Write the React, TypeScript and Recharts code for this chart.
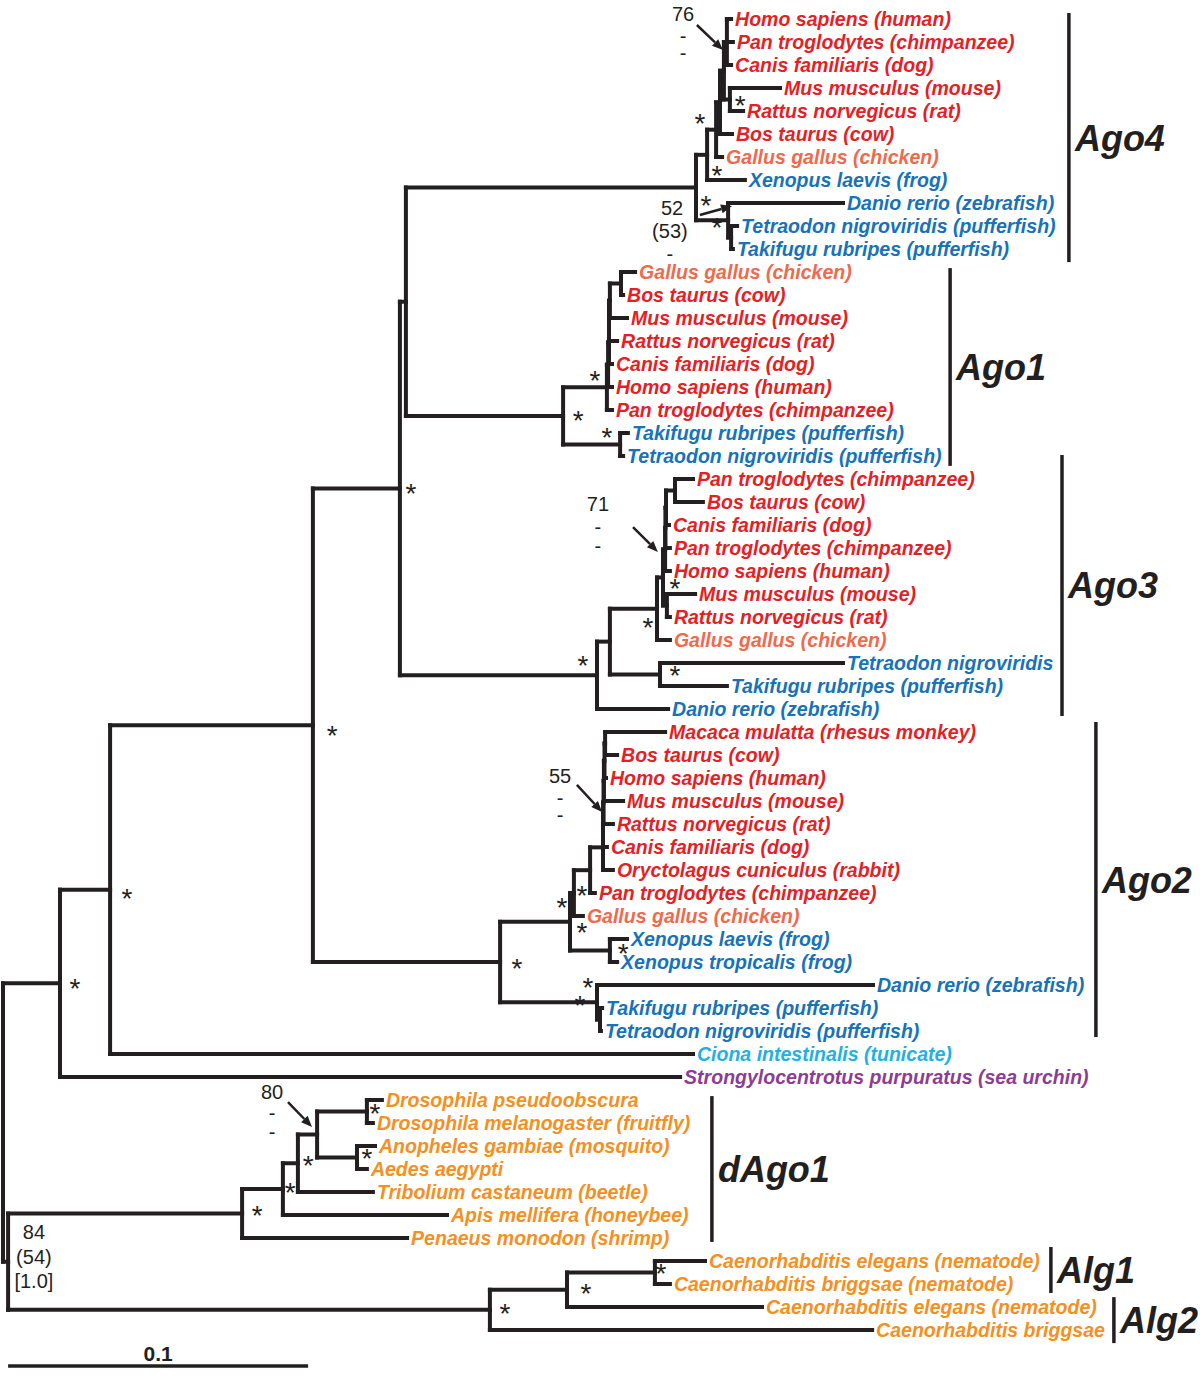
import React from "react";
import { ScatterChart, XAxis, YAxis, ReferenceLine, Scatter } from "recharts";

// tips, listed top to bottom (row = index)
const leafNames = [
  "Homo sapiens (human)", "Pan troglodytes (chimpanzee)", "Canis familiaris (dog)",
  "Mus musculus (mouse)", "Rattus norvegicus (rat)", "Bos taurus (cow)",
  "Gallus gallus (chicken)", "Xenopus laevis (frog)", "Danio rerio (zebrafish)",
  "Tetraodon nigroviridis (pufferfish)", "Takifugu rubripes (pufferfish)",
  "Gallus gallus (chicken)", "Bos taurus (cow)", "Mus musculus (mouse)",
  "Rattus norvegicus (rat)", "Canis familiaris (dog)", "Homo sapiens (human)",
  "Pan troglodytes (chimpanzee)", "Takifugu rubripes (pufferfish)",
  "Tetraodon nigroviridis (pufferfish)",
  "Pan troglodytes (chimpanzee)", "Bos taurus (cow)", "Canis familiaris (dog)",
  "Pan troglodytes (chimpanzee)", "Homo sapiens (human)", "Mus musculus (mouse)",
  "Rattus norvegicus (rat)", "Gallus gallus (chicken)", "Tetraodon nigroviridis",
  "Takifugu rubripes (pufferfish)", "Danio rerio (zebrafish)",
  "Macaca mulatta (rhesus monkey)", "Bos taurus (cow)", "Homo sapiens (human)",
  "Mus musculus (mouse)", "Rattus norvegicus (rat)", "Canis familiaris (dog)",
  "Oryctolagus cuniculus (rabbit)", "Pan troglodytes (chimpanzee)",
  "Gallus gallus (chicken)", "Xenopus laevis (frog)", "Xenopus tropicalis (frog)",
  "Danio rerio (zebrafish)", "Takifugu rubripes (pufferfish)",
  "Tetraodon nigroviridis (pufferfish)",
  "Ciona intestinalis (tunicate)", "Strongylocentrotus purpuratus (sea urchin)",
  "Drosophila pseudoobscura", "Drosophila melanogaster (fruitfly)",
  "Anopheles gambiae (mosquito)", "Aedes aegypti", "Tribolium castaneum (beetle)",
  "Apis mellifera (honeybee)", "Penaeus monodon (shrimp)",
  "Caenorhabditis elegans (nematode)", "Caenorhabditis briggsae (nematode)",
  "Caenorhabditis elegans (nematode)", "Caenorhabditis briggsae",
];

const leafGroups = [
  "mammal", "mammal", "mammal", "mammal", "mammal", "mammal", "bird", "fish", "fish", "fish", "fish",
  "bird", "mammal", "mammal", "mammal", "mammal", "mammal", "mammal", "fish", "fish",
  "mammal", "mammal", "mammal", "mammal", "mammal", "mammal", "mammal", "bird", "fish", "fish", "fish",
  "mammal", "mammal", "mammal", "mammal", "mammal", "mammal", "mammal", "mammal", "bird",
  "fish", "fish", "fish", "fish", "fish",
  "tunicate", "urchin",
  "invert", "invert", "invert", "invert", "invert", "invert", "invert",
  "invert", "invert", "invert", "invert",
];

// distance from root (substitutions per site) at each tip
const leafDepths = [
  0.2427, 0.2433, 0.2427, 0.259, 0.2467, 0.243, 0.2397, 0.2473, 0.28, 0.2447, 0.2433,
  0.2107, 0.2067, 0.208, 0.2047, 0.203, 0.203, 0.203, 0.2083, 0.2067,
  0.23, 0.2333, 0.222, 0.2223, 0.2223, 0.2307, 0.2223, 0.2223, 0.28, 0.2413, 0.2217,
  0.2207, 0.2047, 0.201, 0.2067, 0.2033, 0.2013, 0.2033, 0.1973, 0.1933, 0.208, 0.2047,
  0.29, 0.1997, 0.1993,
  0.23, 0.2257,
  0.1263, 0.1233, 0.124, 0.1213, 0.1233, 0.148, 0.1347,
  0.234, 0.2223, 0.253, 0.2897,
];

const leafParents = [
  "A4hpc", "A4hpc", "A4hpc", "A4mr", "A4mr", "A4c", "A4amn", "A4tet", "A4fish", "A4tt", "A4tt",
  "A1gb", "A1gb", "A1n5", "A1n4", "A1n3", "A1n2", "A1n1", "A1f", "A1f",
  "A3pb", "A3pb", "A3m1", "A3m2", "A3m3", "A3mr", "A3mr", "A3tet", "A3f", "A3f", "A3",
  "A2bm", "A2bm", "A2l2", "A2l3", "A2l4", "A2l5", "A2l6", "A2mam", "A2amn", "A2x", "A2x",
  "A2f", "A2tt", "A2tt",
  "Vert", "Deut",
  "Dros", "Dros", "Mosq", "Mosq", "Holo", "Ins", "dAgo1",
  "Alg1", "Alg1", "AlgA", "AlgB",
];

// internal nodes
const nodeIds = [
  "Root", "Deut", "Proto", "Vert", "N313", "N400", "N406",
  "A4", "A4tet", "A4amn", "A4c", "A4b", "A4hpc", "A4mr", "A4fish", "A4tt",
  "A1", "A1n1", "A1n2", "A1n3", "A1n4", "A1n5", "A1gb", "A1f",
  "A3", "A3v", "A3tet", "A3m4", "A3m3", "A3m2", "A3m1", "A3pb", "A3mr", "A3f",
  "A2", "A2tet", "A2amn", "A2mam", "A2l6", "A2l5", "A2l4", "A2l3", "A2l2", "A2bm", "A2x", "A2f", "A2tt",
  "dAgo1", "Ins", "Holo", "Dip", "Dros", "Mosq",
  "AlgB", "AlgA", "Alg1",
];

const nodeDepths = [
  0, 0.019, 0.0017, 0.0357, 0.1033, 0.1323, 0.1343,
  0.231, 0.2347, 0.2377, 0.239, 0.2403, 0.2413, 0.2423, 0.2417, 0.2427,
  0.1867, 0.2013, 0.2017, 0.202, 0.202, 0.2023, 0.206, 0.2057,
  0.198, 0.2023, 0.218, 0.22, 0.2207, 0.2208, 0.221, 0.224, 0.2213, 0.219,
  0.1657, 0.189, 0.1903, 0.1957, 0.2, 0.2, 0.2002, 0.2003, 0.2005, 0.2007, 0.2023, 0.198, 0.199,
  0.0797, 0.0933, 0.0983, 0.1047, 0.1213, 0.118,
  0.1623, 0.188, 0.2173,
];

const nodeParents = [
  "", "Root", "Root", "Deut", "Vert", "N313", "N400",
  "N406", "A4", "A4tet", "A4amn", "A4c", "A4b", "A4b", "A4", "A4fish",
  "N406", "A1", "A1n1", "A1n2", "A1n3", "A1n4", "A1n5", "A1",
  "N400", "A3", "A3v", "A3tet", "A3m4", "A3m3", "A3m2", "A3m1", "A3m4", "A3v",
  "N313", "A2", "A2tet", "A2amn", "A2mam", "A2l6", "A2l5", "A2l4", "A2l3", "A2l2", "A2tet", "A2", "A2f",
  "Proto", "dAgo1", "Ins", "Holo", "Dip", "Dip",
  "Proto", "AlgB", "AlgA",
];

// "*" support marks (depth, row)
const starDepths = [
  0.2457, 0.2323, 0.238, 0.2343, 0.238,
  0.1973, 0.1917, 0.2013,
  0.224, 0.215, 0.1933, 0.224,
  0.193, 0.1863, 0.193, 0.2067, 0.1713, 0.195, 0.1923,
  0.136, 0.1097, 0.0413, 0.024,
  0.124, 0.1213, 0.1017, 0.0957, 0.0847,
  0.2193, 0.1943, 0.1673,
];
const starRows = [
  3.52, 4.3, 6.57, 7.87, 8.83,
  15.48, 17.22, 17.96,
  24.52, 26.22, 27.87, 28.3,
  37.87, 38.39, 39.48, 40.39, 41.04, 41.87, 42.65,
  20.39, 30.91, 38.0, 41.91,
  47.35, 49.3, 49.61, 50.78, 51.78,
  54.3, 55.17, 56.04,
];

// support values printed next to nodes
const supportTexts = [
  "76", "-", "-", "52", "(53)", "-", "71", "-", "-",
  "55", "-", "-", "80", "-", "-", "84", "(54)", "[1.0]",
];
const supportDepths = [
  0.2267, 0.2267, 0.2267, 0.223, 0.2223, 0.2223, 0.1983, 0.1983, 0.1983,
  0.1857, 0.1857, 0.1857, 0.0897, 0.0897, 0.0897, 0.0103, 0.0103, 0.0103,
];
const supportRows = [
  -0.22, 0.74, 1.48, 8.22, 9.22, 10.22, 21.09, 22.09, 22.91,
  32.91, 33.87, 34.61, 46.65, 47.57, 48.39, 52.74, 53.83, 54.87,
];

// arrows from support values to their node
const arrowFrom = [[0.2313, 0.26], [0.2323, 8.52], [0.21, 22.09], [0.1913, 33.3], [0.095, 47.09]];
const arrowTo = [[0.24, 1.35], [0.243, 8.13], [0.2183, 23.17], [0.1997, 34.48], [0.103, 48.17]];

// gene families
const cladeNames = ["Ago4", "Ago1", "Ago3", "Ago2", "dAgo1", "Alg1", "Alg2"];
const cladeFirstRow = [-0.26, 10.83, 18.96, 30.57, 46.83, 53.39, 55.57];
const cladeLastRow = [10.57, 19.43, 30.3, 44.26, 53.17, 55.39, 57.57];
const cladeBarDepth = [0.3553, 0.3157, 0.353, 0.3643, 0.2363, 0.3493, 0.3703];

const scaleBarStart = 0.0017;
const scaleBarLength = 0.1;
const scaleBarRow = 58.57;

const groupColors: Record<string, string> = {
  mammal: "#e41f26",
  bird: "#ef6a4c",
  fish: "#1672b9",
  tunicate: "#1fb1e3",
  urchin: "#8d3c96",
  invert: "#f5901e",
};

const INK = "#231f20";
const LABEL_FONT = "'Liberation Sans', Arial, Helvetica, sans-serif";

// layout of tree: node rows from children
const childRows: Record<string, number[]> = {};
const nodeDepthById: Record<string, number> = {};
nodeIds.forEach((id, i) => {
  nodeDepthById[id] = nodeDepths[i];
  childRows[id] = [];
});
const nodeRowCache: Record<string, number> = {};
function nodeRow(id: string): number {
  if (nodeRowCache[id] !== undefined) return nodeRowCache[id];
  const rows: number[] = [];
  leafParents.forEach((p, i) => {
    if (p === id) rows.push(i);
  });
  nodeParents.forEach((p, i) => {
    if (p === id) rows.push(nodeRow(nodeIds[i]));
  });
  childRows[id] = rows;
  const r = (Math.min(...rows) + Math.max(...rows)) / 2;
  nodeRowCache[id] = r;
  return r;
}
nodeIds.forEach((id) => nodeRow(id));

type Seg = { x1: number; y1: number; x2: number; y2: number };
const segments: Seg[] = [];
leafNames.forEach((_, i) => {
  segments.push({ x1: nodeDepthById[leafParents[i]], y1: i, x2: leafDepths[i], y2: i });
});
nodeIds.forEach((id, i) => {
  const rows = childRows[id];
  segments.push({ x1: nodeDepths[i], y1: Math.min(...rows), x2: nodeDepths[i], y2: Math.max(...rows) });
  if (nodeParents[i]) {
    const r = nodeRow(id);
    segments.push({ x1: nodeDepthById[nodeParents[i]], y1: r, x2: nodeDepths[i], y2: r });
  }
});

const leafData = leafNames.map((name, i) => ({ x: leafDepths[i], y: i, name, group: leafGroups[i] }));
const starData = starDepths.map((x, i) => ({ x, y: starRows[i] }));
const supportData = supportTexts.map((t, i) => ({ x: supportDepths[i], y: supportRows[i], t }));
const cladeData = cladeNames.map((name, i) => ({
  x: cladeBarDepth[i],
  y: (cladeFirstRow[i] + cladeLastRow[i]) / 2,
  name,
}));
const scaleLabelData = [{ x: scaleBarStart + scaleBarLength / 2, y: scaleBarRow, t: "0.1" }];

const LeafLabel = (props: any) => {
  const { cx, cy, payload } = props;
  return (
    <g transform={`translate(${cx + 4},${cy + 7}) scale(0.93,1)`}>
      <text
        x={0}
        y={0}
        fill={groupColors[payload.group]}
        fontFamily={LABEL_FONT}
        fontSize={21}
        fontWeight="bold"
        fontStyle="italic"
      >
        {payload.name}
      </text>
    </g>
  );
};

const Star = (props: any) => {
  const { cx, cy } = props;
  return (
    <text x={cx} y={cy + 15} textAnchor="middle" fill={INK} fontFamily={LABEL_FONT} fontSize={28}>
      *
    </text>
  );
};

const SupportText = (props: any) => {
  const { cx, cy, payload } = props;
  return (
    <text x={cx} y={cy + 7} textAnchor="middle" fill={INK} fontFamily={LABEL_FONT} fontSize={20}>
      {payload.t}
    </text>
  );
};

const CladeLabel = (props: any) => {
  const { cx, cy, payload } = props;
  return (
    <text
      x={cx + 6}
      y={cy + 13}
      fill={INK}
      fontFamily={LABEL_FONT}
      fontSize={36}
      fontWeight="bold"
      fontStyle="italic"
    >
      {payload.name}
    </text>
  );
};

const ScaleLabel = (props: any) => {
  const { cx, cy, payload } = props;
  return (
    <text x={cx} y={cy - 5} textAnchor="middle" fill={INK} fontFamily={LABEL_FONT} fontSize={21} fontWeight="bold">
      {payload.t}
    </text>
  );
};

const Arrow = (props: any) => {
  const { x1, y1, x2, y2 } = props;
  const a = Math.atan2(y2 - y1, x2 - x1);
  const len = 11;
  const half = 4.5;
  const bx = x2 - len * Math.cos(a);
  const by = y2 - len * Math.sin(a);
  const px = -Math.sin(a) * half;
  const py = Math.cos(a) * half;
  return (
    <g>
      <line x1={x1} y1={y1} x2={bx} y2={by} stroke={INK} strokeWidth={2.5} />
      <polygon points={`${x2},${y2} ${bx + px},${by + py} ${bx - px},${by - py}`} fill={INK} />
    </g>
  );
};

export default function App() {
  return (
    <div style={{ position: "absolute", left: 0, top: 0, width: 1200, height: 1376, background: "#fff" }}>
      <ScatterChart width={1200} height={1376} margin={{ top: 0, right: 0, bottom: 0, left: 0 }}>
        <XAxis type="number" dataKey="x" domain={[-0.001, 0.399]} allowDataOverflow hide />
        <YAxis type="number" dataKey="y" domain={[-0.826, 59]} allowDataOverflow reversed hide />

        {segments.map((s, i) => (
          <ReferenceLine
            key={`seg-${i}`}
            segment={[{ x: s.x1, y: s.y1 }, { x: s.x2, y: s.y2 }]}
            stroke={INK}
            strokeWidth={4}
            strokeLinecap="square"
            ifOverflow="visible"
          />
        ))}

        {cladeNames.map((n, i) => (
          <ReferenceLine
            key={`clade-${n}`}
            segment={[{ x: cladeBarDepth[i], y: cladeFirstRow[i] }, { x: cladeBarDepth[i], y: cladeLastRow[i] }]}
            stroke={INK}
            strokeWidth={3.5}
            ifOverflow="visible"
          />
        ))}

        {arrowFrom.map((f, i) => (
          <ReferenceLine
            key={`arrow-${i}`}
            segment={[{ x: f[0], y: f[1] }, { x: arrowTo[i][0], y: arrowTo[i][1] }]}
            shape={<Arrow />}
            ifOverflow="visible"
          />
        ))}

        <ReferenceLine
          segment={[{ x: scaleBarStart, y: scaleBarRow }, { x: scaleBarStart + scaleBarLength, y: scaleBarRow }]}
          stroke={INK}
          strokeWidth={3.5}
          ifOverflow="visible"
        />

        <Scatter data={leafData} shape={<LeafLabel />} isAnimationActive={false} />
        <Scatter data={starData} shape={<Star />} isAnimationActive={false} />
        <Scatter data={supportData} shape={<SupportText />} isAnimationActive={false} />
        <Scatter data={cladeData} shape={<CladeLabel />} isAnimationActive={false} />
        <Scatter data={scaleLabelData} shape={<ScaleLabel />} isAnimationActive={false} />
      </ScatterChart>
    </div>
  );
}
